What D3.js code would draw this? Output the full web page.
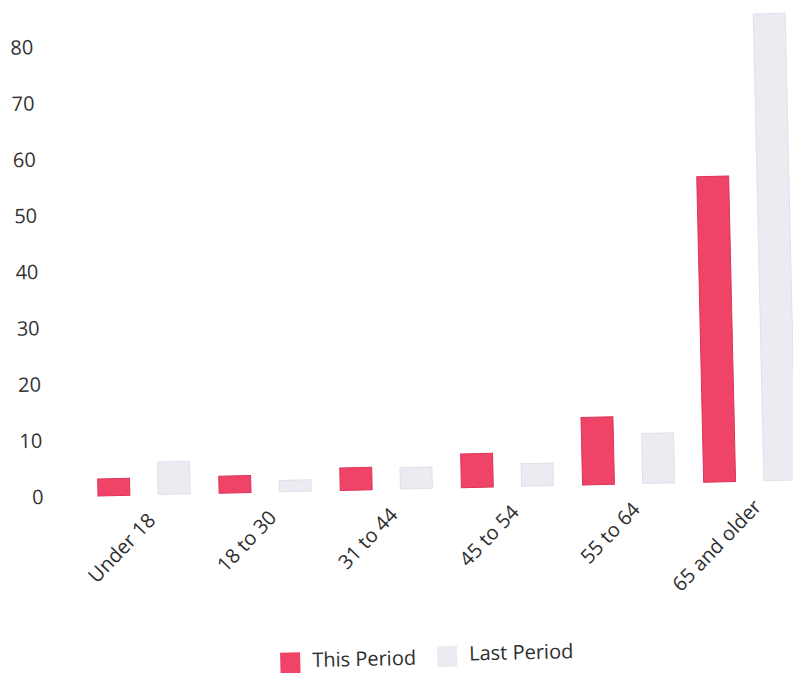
<!DOCTYPE html>
<html>
<head>
<meta charset="utf-8">
<script src="https://cdn.jsdelivr.net/npm/d3@7"></script>
<style>
  html, body { margin: 0; padding: 0; background: #fff; }
  svg { display: block; font-family: "Open Sans", "Noto Sans", sans-serif; }
</style>
</head>
<body>
<div id="chart"></div>
<script>
// data
const categories = ["Under 18", "18 to 30", "31 to 44", "45 to 54", "55 to 64", "65 and older"]
const series = ["This Period", "Last Period"]
const thisPeriod = [3, 3, 4, 6, 12, 54.3]
const lastPeriod = [5.8, 2, 3.8, 4, 8.9, 83]
const yTicks = [0, 10, 20, 30, 40, 50, 60, 70, 80]

const colors = { "This Period": "#ef4468", "Last Period": "#ebebf2" }
const strokes = { "This Period": "#dc3458", "Last Period": "#e0e0ea" }

const width = 793
const height = 673

const svg = d3.select("#chart")
  .append("svg")
  .attr("width", width)
  .attr("height", height)

// the scan is tilted a little, so the whole chart is drawn in a rotated group
const g = svg.append("g")
  .attr("transform", "rotate(-1.3, 400, 340)")

const rows = categories.map((c, i) => ({
  category: c,
  "This Period": thisPeriod[i],
  "Last Period": lastPeriod[i]
}))

const x0 = d3.scaleBand()
  .domain(categories)
  .range([80, 807])
  .paddingInner(0.24)
  .paddingOuter(0.12)

const x1 = d3.scaleBand()
  .domain(series)
  .range([0, x0.bandwidth()])
  .paddingInner(0.47)

const y = d3.scaleLinear()
  .domain([0, 80])
  .range([489, 39])

// y axis labels only, no line or ticks
const yAxis = g.append("g")
  .attr("transform", "translate(40,0)")
  .call(d3.axisLeft(y).tickValues(yTicks).tickSize(0).tickPadding(0))
yAxis.select(".domain").remove()
yAxis.selectAll("text")
  .attr("font-size", 20)
  .attr("fill", "#333")
  .style("font-family", "'Open Sans', sans-serif")

// bars
const groups = g.selectAll(".group")
  .data(rows)
  .enter()
  .append("g")
  .attr("class", "group")
  .attr("transform", d => `translate(${x0(d.category)},0)`)

groups.selectAll("rect")
  .data(d => series.map(s => ({ key: s, value: d[s] })))
  .enter()
  .append("rect")
  .attr("x", d => x1(d.key))
  .attr("width", x1.bandwidth())
  .attr("y", d => y(d.value))
  .attr("height", d => y(0) - y(d.value))
  .attr("fill", d => colors[d.key])
  .attr("stroke", d => strokes[d.key])
  .attr("stroke-width", 1)

// category labels, slanted
g.selectAll(".xlabel")
  .data(categories)
  .enter()
  .append("text")
  .attr("class", "xlabel")
  .attr("transform", d => `translate(${x0(d) + x0.bandwidth() / 2 + 12},${y(0) + 27}) rotate(-45)`)
  .attr("text-anchor", "end")
  .attr("font-size", 20)
  .attr("fill", "#2e2e2e")
  .text(d => d)

// legend
const legend = g.append("g")
  .attr("transform", "translate(273,650)")

series.forEach((s, i) => {
  const item = legend.append("g").attr("transform", `translate(${i === 0 ? 0 : 157},0)`)
  item.append("rect")
    .attr("width", 20)
    .attr("height", 21)
    .attr("y", i === 0 ? 0 : -3)
    .attr("fill", colors[s])
  item.append("text")
    .attr("x", 32)
    .attr("y", i === 0 ? 15 : 12)
    .attr("font-size", 20)
    .attr("fill", "#2e2e2e")
    .text(s)
})
</script>
</body>
</html>
